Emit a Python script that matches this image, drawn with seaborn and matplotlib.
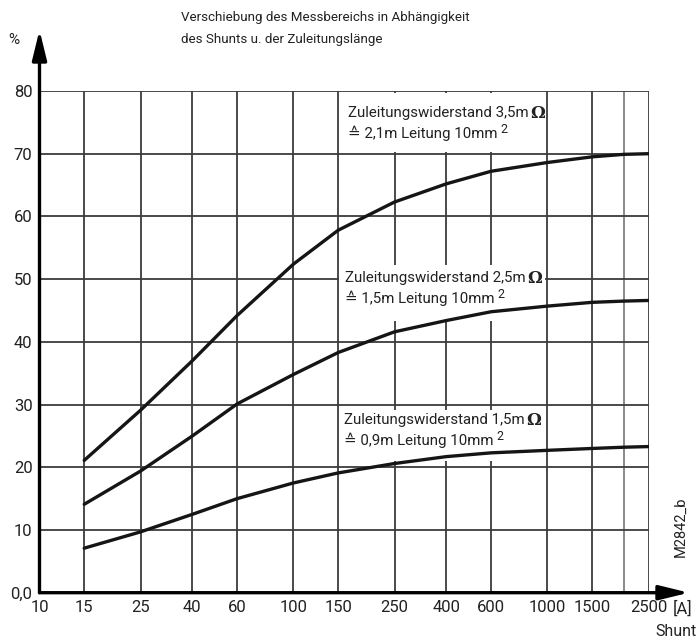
import matplotlib
matplotlib.use("Agg")
import matplotlib.pyplot as plt
import numpy as np
import pandas as pd
import seaborn as sns
from matplotlib.patches import Rectangle

shunt = [15, 25, 40, 60, 100, 150, 250, 400, 600, 1000, 1500, 2000, 2500]
# shift of the measuring range [%] for three lead resistances
r_35 = [21.1, 29.1, 37.0, 44.2, 52.4, 57.8, 62.3, 65.2, 67.2, 68.6, 69.5, 69.9, 70.0]
r_25 = [14.1, 19.4, 25.0, 30.1, 34.8, 38.3, 41.6, 43.4, 44.8, 45.7, 46.3, 46.5, 46.6]
r_15 = [7.1, 9.7, 12.5, 15.0, 17.5, 19.1, 20.6, 21.7, 22.3, 22.7, 23.0, 23.2, 23.3]
curve_names = ["3,5", "2,5", "1,5"]

grid_x = [10, 15, 25, 40, 60, 100, 150, 250, 400, 600, 1000, 1500, 2000, 2500]
grid_x_labels = ["10", "15", "25", "40", "60", "100", "150", "250", "400",
                 "600", "1000", "1500", "", "2500"]
grid_y = [0, 10, 20, 30, 40, 50, 60, 70, 80]
grid_y_labels = ["0,0", "10", "20", "30", "40", "50", "60", "70", "80"]

label_line1 = ["Zuleitungswiderstand 3,5m", "Zuleitungswiderstand 2,5m",
               "Zuleitungswiderstand 1,5m"]
label_line2 = ["\u2259 2,1m Leitung 10mm", "\u2259 1,5m Leitung 10mm",
               "\u2259 0,9m Leitung 10mm"]

df = pd.DataFrame({
    "shunt": shunt * 3,
    "value": r_35 + r_25 + r_15,
    "curve": [n for n in curve_names for _ in shunt],
})

sns.set_style("white")
plt.rcParams["font.family"] = ["Roboto", "DejaVu Sans"]

W, H = 699, 641
fig = plt.figure(figsize=(W / 100, H / 100), dpi=100)


def fx(px):
    return px / W


def fy(py):
    return 1 - py / H


# plot area: 10 A at x=39.5 px, 2500 A at 648.5 px, 0 % at y=592.7, 80 % at 91
ax = fig.add_axes([fx(39.5), fy(592.7), (648.5 - 39.5) / W, (592.7 - 91) / H])
ax.set_xscale("log")

grid_col = "#3c3c3c"
for v in grid_x[1:]:
    ax.axvline(v, color="#808080" if v == 2000 else grid_col, lw=1.3, zorder=1)
for h in grid_y[1:]:
    ax.axhline(h, color=grid_col, lw=1.3, zorder=1)

# white boxes behind the curve labels
boxes = [(339, 92.5, 545, 152), (339, 265, 545, 321), (339, 410, 545, 461)]
for x0, y0, x1, y1 in boxes:
    ax.add_patch(Rectangle((fx(x0), fy(y1)), fx(x1) - fx(x0), fy(y0) - fy(y1),
                           transform=fig.transFigure, facecolor="white",
                           edgecolor="none", zorder=2))

sns.lineplot(data=df, x="shunt", y="value", hue="curve",
             palette={n: "#151515" for n in curve_names}, linewidth=2.4,
             legend=False, ax=ax, zorder=5)

ax.set_xlim(10, 2500)
ax.set_ylim(0, 80)
ax.set_xticks(grid_x, grid_x_labels)
ax.xaxis.set_minor_locator(matplotlib.ticker.NullLocator())
ax.set_yticks(grid_y, grid_y_labels)
ax.tick_params(length=0, labelsize=12, colors="#222222")
ax.tick_params(axis="x", pad=5)
ax.tick_params(axis="y", pad=5)
ax.set_xlabel("")
ax.set_ylabel("")
for s in ax.spines.values():
    s.set_visible(False)

# axes with arrow heads
arrow = dict(arrowstyle="-|>,head_length=0.9,head_width=0.22", lw=2.4,
             color="black", mutation_scale=20, shrinkA=0, shrinkB=0)
ax.annotate("", xy=(0, (592.7 - 30) / (592.7 - 91)), xytext=(0, 0),
            xycoords="axes fraction", arrowprops=arrow, annotation_clip=False)
ax.annotate("", xy=((689 - 39.5) / 609, 0), xytext=(0, 0),
            xycoords="axes fraction", arrowprops=arrow, annotation_clip=False)

txt = "#222222"
fig.text(fx(181), fy(17), "Verschiebung des Messbereichs in Abhängigkeit",
         fontsize=9.6, color=txt, va="center")
fig.text(fx(181), fy(39), "des Shunts u. der Zuleitungslänge",
         fontsize=9.6, color=txt, va="center")
fig.text(fx(14), fy(40), "%", fontsize=11, color=txt, ha="center", va="center")
fig.text(fx(683), fy(609), "[A]", fontsize=12, color=txt, ha="center", va="center")
fig.text(fx(697), fy(631), "Shunt", fontsize=11.5, color=txt, ha="right", va="center")
fig.text(fx(681), fy(527), "M2842_b", fontsize=10.5, color=txt, ha="center",
         va="center", rotation=90)

label_pos = [(348, 113, 133), (345, 278, 298), (344, 420, 440)]
for (px, py1, py2), l1, l2 in zip(label_pos, label_line1, label_line2):
    t1 = fig.text(fx(px), fy(py1), l1, fontsize=10.8, color=txt, va="center", zorder=6)
    ax.annotate("\u03a9", xy=(1, 0.45), xycoords=t1, xytext=(1, 0),
                textcoords="offset points", ha="left", va="center",
                fontsize=12, family="DejaVu Serif", fontweight="bold", color=txt)
    t2 = fig.text(fx(px), fy(py2), l2, fontsize=10.8, color=txt, va="center", zorder=6)
    ax.annotate("2", xy=(1, 0.75), xycoords=t2, xytext=(2, 0),
                textcoords="offset points", ha="left", va="center",
                fontsize=9, color=txt)

fig.savefig("out.png", dpi=100)
